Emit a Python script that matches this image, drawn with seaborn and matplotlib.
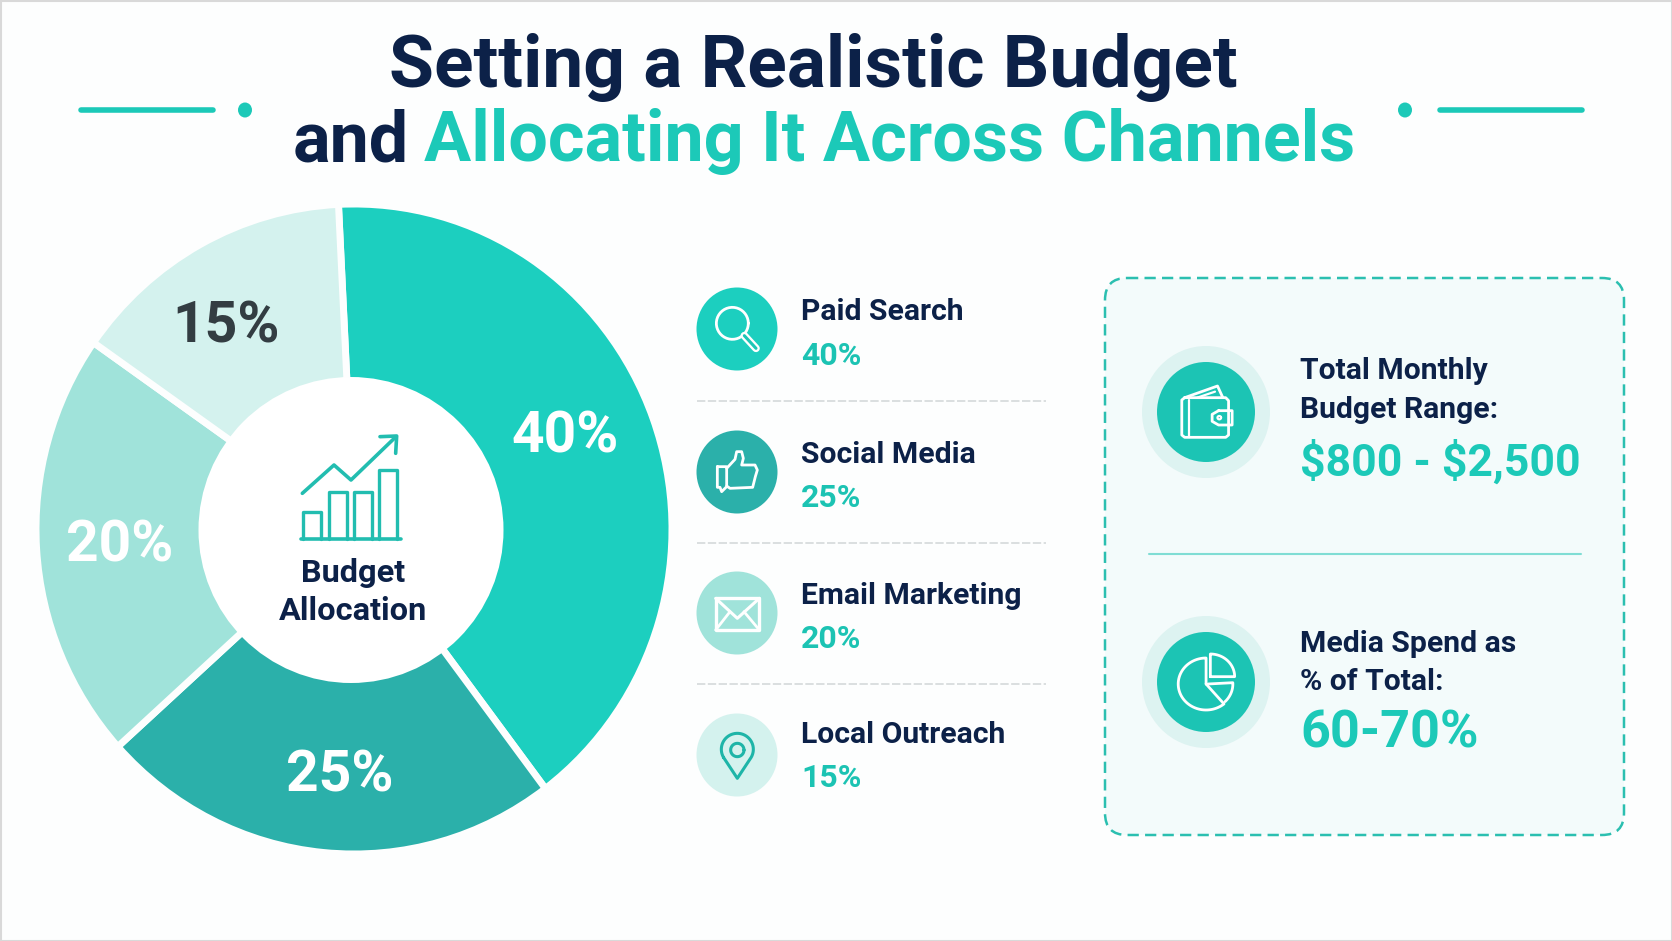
import numpy as np
import matplotlib
matplotlib.use("Agg")
import matplotlib.pyplot as plt
import seaborn as sns
from matplotlib.patches import Ellipse, FancyBboxPatch, Rectangle

# chart data
channels = ["Paid Search", "Social Media", "Email Marketing", "Local Outreach"]
shares = [40, 25, 20, 15]
# slice sizes as measured on the picture, they are a bit off the printed labels
drawn_shares = [40.5, 23.6, 21.4, 14.5]
slice_colors = ["#1CCFBF", "#2BB0AA", "#A0E3DA", "#D4F2EE"]
label_colors = ["white", "white", "white", "#333D42"]
title_top = "Setting a Realistic Budget"
title_dark = "and"
title_teal = "Allocating It Across Channels"
center_label = ["Budget", "Allocation"]
panel_labels = [["Total Monthly", "Budget Range:"], ["Media Spend as", "% of Total:"]]
panel_values = ["$800 - $2,500", "60-70%"]

NAVY = "#0C2148"
TEAL = "#1CC9B8"
FONT = "Roboto"

sns.set_theme(style="white")
plt.rcParams["font.family"] = [FONT, "DejaVu Sans"]
plt.rcParams["font.weight"] = "bold"

W, H = 1672, 941
fig = plt.figure(figsize=(W / 100, H / 100), dpi=100, facecolor="#FDFEFE")

# donut, slightly taller than wide like the picture
cx, cy, rx, ry = 354, 529, 318, 325
pie_ax = fig.add_axes([(cx - rx) / W, 1 - (cy + ry) / H, 2 * rx / W, 2 * ry / H])
palette = sns.color_palette(slice_colors)
pie_ax.pie(drawn_shares, colors=palette, startangle=92.8, counterclock=False, radius=1,
           wedgeprops={"edgecolor": "#FDFEFE", "linewidth": 5})
pie_ax.set_aspect("auto")
pie_ax.set_xlim(-1, 1)
pie_ax.set_ylim(-1, 1)

# overlay in pixel coordinates for everything else
ax = fig.add_axes([0, 0, 1, 1], facecolor="none")
ax.set_xlim(0, W)
ax.set_ylim(H, 0)
ax.axis("off")
ax.add_patch(Rectangle((0.5, 0.5), W - 1, H - 1, fill=False, ec="#D9D9D9", lw=1.5))
ax.add_patch(Ellipse((351, 530), 305, 306, fc="white", ec="none"))


def put(x, y, s, size, color=NAVY, ha="left"):
    return ax.text(x, y, s, fontsize=size, color=color, ha=ha, va="baseline",
                   fontweight="bold", parse_math=False)


def stroke(x0, y0, pts, color="white", lw=2.0, closed=False, sx=3.0):
    pts = np.array(pts, dtype=float)
    if closed:
        pts = np.vstack([pts, pts[0]])
    ax.plot(x0 + pts[:, 0] / sx, y0 + pts[:, 1] / 3, color=color, lw=lw,
            solid_capstyle="round", solid_joinstyle="round")


def arc(cx0, cy0, r, a0, a1, n=40):
    t = np.radians(np.linspace(a0, a1, n))
    return np.column_stack([cx0 + r * np.cos(t), cy0 + r * np.sin(t)])


# title
put(389, 87, title_top, 52.7)
put(293, 161, title_dark, 50.5)
put(424, 161, title_teal, 50.5, color=TEAL)
for x0, x1, dot in [(81, 213, 245), (1440, 1582, 1405)]:
    ax.plot([x0, x1], [110, 110], color=TEAL, lw=4, solid_capstyle="round")
    ax.add_patch(Ellipse((dot, 110), 14, 15, fc=TEAL, ec="none"))

# slice labels
label_xy = [(565, 437), (340, 776), (120, 546), (226, 327)]
for (lx, ly), v, c in zip(label_xy, shares, label_colors):
    ax.text(lx, ly, f"{v}%", fontsize=41, color=c, ha="center", va="center",
            fontweight="bold")

# centre icon
ox, oy = 190, 370
icon = "#22BDB0"
for a, b, top in [(340, 392, 425), (417, 470, 367), (492, 545, 365), (567, 622, 300)]:
    stroke(ox, oy, [(a, 507), (a, top), (b, top), (b, 507)], color=icon, lw=2.4)
stroke(ox, oy, [(333, 507), (633, 507)], color=icon, lw=2.6)
stroke(ox, oy, [(337, 370), (432, 285), (483, 330), (618, 200)], color=icon, lw=2.6)
stroke(ox, oy, [(570, 200), (620, 198), (617, 250)], color=icon, lw=2.6)
put(353, 582, center_label[0], 23.4, ha="center")
put(353, 620, center_label[1], 23.4, ha="center")

# channel list
icon_y = [329, 472, 613, 755]
name_y = [320, 463, 604, 743]
pct_y = [365, 507, 648, 787]
for name, v, c, iy, ny, py in zip(channels, shares, slice_colors, icon_y, name_y, pct_y):
    ax.add_patch(Ellipse((737, iy), 81, 83, fc=c, ec="none"))
    put(801, ny, name, 21.7)
    put(801, py, f"{v}%", 23, color="#1CC3B3")
for y in [401, 543, 684]:
    ax.plot([697, 1046], [y, y], color="#D5D9DA", lw=1.2, ls=(0, (5, 1.5)))

# magnifier
ox, oy = 680, 270
stroke(ox, oy, arc(157, 160, 48, 0, 360))
stroke(ox, oy, [(193, 197), (228, 235)], lw=5.5)
stroke(ox, oy, [(193, 197), (228, 235)], color="#1CC6B6", lw=2.2)
# thumb
stroke(ox, oy, [(112, 590), (140, 590), (140, 650), (125, 665), (120, 652), (112, 652)], closed=True)
stroke(ox, oy, [(140, 595), (165, 568), (170, 545), (185, 545), (190, 565), (185, 585),
                (225, 585), (232, 600), (226, 620), (218, 652), (150, 655), (140, 648)])
# envelope
ox, oy = 680, 540
stroke(ox, oy, [(107, 175), (238, 175), (238, 270), (107, 270)], closed=True, lw=2.4)
stroke(ox, oy, [(107, 175), (172, 235), (238, 175)], lw=2.2)
stroke(ox, oy, [(107, 270), (150, 215)], lw=2)
stroke(ox, oy, [(238, 270), (192, 215)], lw=2)
# map pin
pin = "#1EB5A8"
stroke(ox, oy, np.vstack([arc(172, 628, 48, 150, 390), [(172, 715)]]), color=pin, closed=True, lw=2.2)
stroke(ox, oy, arc(172, 630, 20, 0, 360), color=pin, lw=2.2)

# right panel
ax.add_patch(FancyBboxPatch((1127, 300), 475, 513, boxstyle="round,pad=22,rounding_size=22",
                            fc="#F3FBFB", ec="#2BBFB0", lw=1.8, ls=(0, (4.5, 2.5))))
ax.plot([1149, 1581], [554, 554], color="#7FDDD4", lw=1.5)
for iy in [412, 682]:
    ax.add_patch(Ellipse((1206, iy), 128, 132, fc="#DDF3F1", ec="none"))
    ax.add_patch(Ellipse((1206, iy), 98, 100, fc="#1CC4B4", ec="none"))

for lines, val, ys, vy, sz in zip(panel_labels, panel_values, [(379, 418), (652, 690)], [476, 748], [32, 37.5]):
    put(1300, ys[0], lines[0], 21.7)
    put(1300, ys[1], lines[1], 21.7)
    put(1300, vy, val, sz, color=TEAL)

# wallet, crop is 2.8x wide
ox, oy = 1090, 260
stroke(ox, oy, [(265, 413), (380, 413), (388, 422), (388, 525), (380, 532), (265, 532), (257, 525), (257, 420)], closed=True, sx=2.8)
stroke(ox, oy, [(277, 420), (277, 528)], lw=1.6, sx=2.8)
stroke(ox, oy, [(265, 413), (357, 378), (372, 413)], sx=2.8)
stroke(ox, oy, [(300, 413), (350, 395)], lw=1.6, sx=2.8)
stroke(ox, oy, [(360, 452), (398, 452), (398, 495), (360, 495), (342, 484), (342, 463)], closed=True, sx=2.8)
stroke(ox, oy, arc(362, 473, 5, 0, 360), lw=1.6, sx=2.8)
# small pie icon
ox, oy = 1090, 560
stroke(ox, oy, np.vstack([[(325, 372)], arc(325, 372, 78, 270, 50, 60), [(325, 372)]]), sx=2.8)
stroke(ox, oy, np.vstack([[(337, 350)], arc(337, 350, 68, -90, 0), [(337, 350)]]), sx=2.8)
stroke(ox, oy, np.vstack([[(330, 372)], arc(325, 372, 75, -3, 45)]), sx=2.8)

fig.savefig("out.png", dpi=100, facecolor=fig.get_facecolor())
